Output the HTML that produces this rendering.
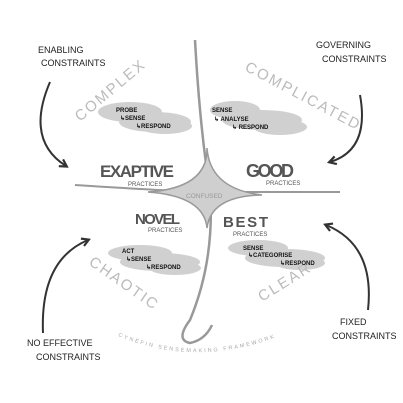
<!DOCTYPE html>
<html><head><meta charset="utf-8"><style>
html,body{margin:0;padding:0;background:#fff;}
svg{display:block;}
text{font-family:"Liberation Sans",sans-serif;}
</style></head><body>
<svg width="403" height="403" viewBox="0 0 403 403" xmlns="http://www.w3.org/2000/svg">
<defs>
<marker id="ah" markerWidth="10" markerHeight="10" refX="7" refY="5" orient="auto" markerUnits="userSpaceOnUse">
<path d="M1,1 L8,5 L1,9" fill="none" stroke="#333" stroke-width="2.2"/>
</marker>
<path id="cyn" d="M118,336 Q205,372 298,328"/>
</defs>
<!-- clouds -->
<g fill="#d0d0d0">
<ellipse cx="130" cy="112" rx="32" ry="10"/><ellipse cx="155" cy="122" rx="36" ry="10"/><ellipse cx="165" cy="126" rx="27" ry="8"/>
<ellipse cx="235" cy="110" rx="25" ry="9"/><ellipse cx="262" cy="120" rx="40" ry="10"/><ellipse cx="280" cy="127" rx="27" ry="8"/>
<ellipse cx="140" cy="253" rx="32" ry="8"/><ellipse cx="160" cy="262" rx="40" ry="9"/><ellipse cx="175" cy="268" rx="26" ry="7"/>
<ellipse cx="258" cy="248" rx="30" ry="8"/><ellipse cx="285" cy="258" rx="40" ry="9"/><ellipse cx="300" cy="263" rx="25" ry="7"/>
</g>
<!-- dividing lines -->
<path d="M75,185 Q150,190 205,192 Q280,192 340,192" fill="none" stroke="#999" stroke-width="2"/>
<path d="M195,40 Q200,130 210,190 Q215,260 190,320 Q175,340 190,343 Q205,340 212,325" fill="none" stroke="#999" stroke-width="2.5"/>
<path d="M207,148 Q208,188 148,192 Q204,196 207,228 Q211,196 262,195 Q210,189 207,148Z" fill="#cfcfcf" stroke="#999" stroke-width="1.5"/>
<text x="186" y="198" font-size="6.5" fill="#999">CONFUSED</text>
<!-- arrows -->
<g fill="none" stroke="#333" stroke-width="2" marker-end="url(#ah)">
<path d="M50,82 Q25,140 66,166"/>
<path d="M360,95 Q370,150 330,162"/>
<path d="M43,333 Q40,260 88,240"/>
<path d="M368,310 Q375,245 326,225"/>
</g>
<!-- constraint labels -->
<g font-size="9" fill="#222">
<text x="38" y="53">ENABLING</text><text x="41" y="66">CONSTRAINTS</text>
<text x="316" y="48">GOVERNING</text><text x="322" y="62">CONSTRAINTS</text>
<text x="27" y="346">NO EFFECTIVE</text><text x="36" y="360">CONSTRAINTS</text>
<text x="340" y="325">FIXED</text><text x="332" y="339">CONSTRAINTS</text>
</g>
<!-- domain names -->
<g font-size="15" fill="#bbb" letter-spacing="2">
<text transform="translate(80,122) rotate(-40)">COMPLEX</text>
<text transform="translate(244,70) rotate(28)">COMPLICATED</text>
<text transform="translate(88,264) rotate(35)">CHAOTIC</text>
<text transform="translate(262,302) rotate(-32)">CLEAR</text>
</g>
<!-- practices -->
<g font-weight="bold" fill="#555">
<text x="100" y="177" font-size="17" textLength="74">EXAPTIVE</text>
<text x="246" y="177" font-size="18" textLength="48">GOOD</text>
<text x="135" y="224" font-size="15" textLength="45">NOVEL</text>
<text x="223" y="227" font-size="15" textLength="45">BEST</text>
</g>
<g font-size="6" fill="#555">
<text x="128" y="186">PRACTICES</text>
<text x="266" y="185">PRACTICES</text>
<text x="148" y="232">PRACTICES</text>
<text x="233" y="236">PRACTICES</text>
</g>
<!-- cloud text -->
<g font-size="6" font-weight="bold" fill="#111">
<text x="116" y="112">PROBE</text><text x="120" y="120">↳SENSE</text><text x="136" y="128">↳RESPOND</text>
<text x="212" y="112">SENSE</text><text x="214" y="121">↳ ANALYSE</text><text x="232" y="129">↳ RESPOND</text>
<text x="122" y="253">ACT</text><text x="126" y="261">↳SENSE</text><text x="146" y="269">↳RESPOND</text>
<text x="243" y="250">SENSE</text><text x="248" y="257">↳CATEGORISE</text><text x="280" y="265">↳RESPOND</text>
</g>
<text font-size="5.5" fill="#aaa" letter-spacing="2"><textPath href="#cyn">CYNEFIN SENSEMAKING FRAMEWORK</textPath></text>
</svg>
</body></html>
